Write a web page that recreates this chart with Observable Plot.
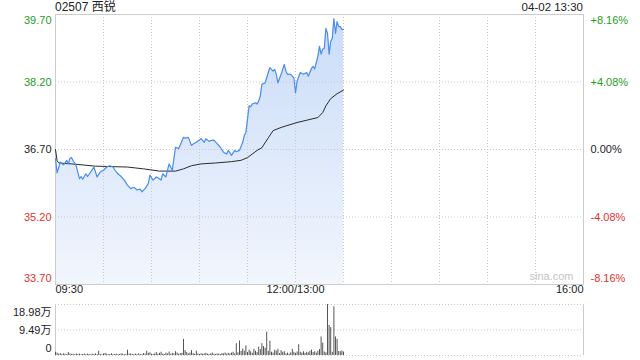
<!DOCTYPE html>
<html><head><meta charset="utf-8">
<script src="https://cdn.jsdelivr.net/npm/d3@7"></script>
<script src="https://cdn.jsdelivr.net/npm/@observablehq/plot@0.6"></script>
<style>
body{margin:0;background:#fff;font-family:"Liberation Sans","Noto Sans CJK SC",Arial,sans-serif;}
#wrap{position:relative;width:640px;height:360px;overflow:hidden;}
#wrap svg{position:absolute;left:0;}
.hdr{position:absolute;top:0;font-size:12px;color:#222;line-height:15px;white-space:nowrap;}
</style></head><body>
<div id="wrap">
<div class="hdr" style="left:55px">02507 西锐</div>
<div class="hdr" style="right:57px;font-size:11.5px">04-02 13:30</div>
</div>
<script>
const prevClose = 36.70;
const yTicks = [39.70, 38.20, 36.70, 35.20, 33.70];
const pctLabels = ["+8.16%", "+4.08%", "0.00%", "-4.08%", "-8.16%"];
const xLabels = ["09:30", "12:00/13:00", "16:00"];
const xLabelTimes = ["09:30", "12:00", "16:00"];
const gridTimes = ["10:00","10:30","11:00","11:30","12:00","13:30","14:00","14:30","15:00","15:30"];

const priceTimes = ["09:30","09:31","09:33","09:35","09:36","09:37","09:38","09:39","09:40","09:41","09:42","09:43","09:45","09:46","09:47","09:49","09:50","09:52","09:54","09:56","09:58","10:00","10:02","10:04","10:06","10:07","10:09","10:11","10:13","10:15","10:17","10:19","10:21","10:23","10:24","10:26","10:28","10:29","10:31","10:33","10:34","10:36","10:37","10:39","10:41","10:43","10:45","10:47","10:48","10:50","10:51","10:53","10:55","10:56","10:58","11:01","11:03","11:04","11:06","11:07","11:09","11:11","11:13","11:15","11:17","11:18","11:20","11:22","11:23","11:25","11:27","11:28","11:29","11:31","11:32","11:33","11:35","11:36","11:37","11:38","11:39","11:41","11:43","11:44","11:46","11:47","11:48","11:49","11:51","11:53","11:54","11:55","11:57","11:59","12:00","13:01","13:03","13:05","13:07","13:08","13:10","13:11","13:12","13:14","13:15","13:16","13:17","13:18","13:19","13:20","13:21","13:22","13:23","13:24","13:25","13:26","13:27","13:28","13:29","13:30"];
const prices = [36.50,36.18,36.42,36.36,36.40,36.46,36.38,36.50,36.52,36.45,36.40,36.33,36.05,36.10,36.04,36.16,36.10,36.20,36.31,36.09,36.20,36.24,36.31,36.34,36.31,36.25,36.16,36.10,36.02,35.91,35.83,35.86,35.80,35.82,35.76,35.83,35.94,36.13,36.02,36.09,36.07,36.02,36.16,36.09,36.38,36.24,36.75,36.72,36.80,36.97,36.95,36.97,36.79,36.82,36.86,36.94,36.86,36.94,36.88,36.90,36.91,36.83,36.75,36.64,36.60,36.68,36.57,36.68,36.65,36.68,36.86,37.01,37.08,37.67,37.65,37.71,37.74,37.71,37.78,37.89,38.15,38.18,38.41,38.52,38.44,38.48,38.37,38.18,38.37,38.59,38.44,38.37,38.37,38.29,37.96,38.22,38.41,38.37,38.41,38.33,38.50,38.55,38.49,38.77,38.99,38.82,38.93,38.95,39.39,39.28,38.82,39.10,39.17,39.61,39.28,39.54,39.43,39.43,39.37,39.37];

const avgTimes = ["09:30","09:31","09:32","09:40","09:55","10:15","10:25","10:35","10:45","10:50","10:55","11:01","11:10","11:20","11:26","11:30","11:36","11:39","11:43","11:46","11:51","13:01","13:14","13:17","13:19","13:22","13:26","13:30"];
const avgPrices = [36.70,36.45,36.40,36.38,36.33,36.31,36.27,36.22,36.22,36.27,36.34,36.38,36.40,36.43,36.46,36.52,36.68,36.74,36.96,37.12,37.19,37.30,37.41,37.52,37.67,37.83,37.94,38.02];

const volStart = "09:30";
const volumes = [1.2,0.9,0.5,0.7,0.4,0.6,0.5,0.3,1.1,0.6,
0.4,0.5,0.3,0.6,0.4,0.5,0.3,0.4,0.6,0.3,
0.5,0.4,0.3,0.5,0.4,0.6,0.3,1.6,0.4,0.3,
0.6,0.8,0.5,0.3,0.4,0.6,0.3,0.4,0.5,0.3,
0.4,0.6,0.5,0.3,0.4,2.0,0.5,0.6,0.4,0.3,
0.5,0.4,0.6,0.4,0.3,0.7,0.5,1.6,0.8,1.0,
0.5,0.4,0.6,1.1,0.5,0.8,1.2,0.5,0.4,0.9,
0.6,1.3,0.5,0.8,0.6,1.4,0.9,0.5,0.7,0.8,
6.0,1.8,1.1,0.6,0.9,1.8,0.7,0.5,1.6,0.6,
0.4,0.7,0.5,0.6,0.8,0.5,0.4,0.6,0.9,0.5,
0.4,0.6,0.5,0.4,0.7,0.6,0.9,0.5,0.8,0.6,
0.9,1.2,0.6,4.4,1.0,5.4,1.5,2.4,1.6,3.6,
1.1,2.0,1.4,0.8,2.3,1.6,1.1,3.1,2.2,4.4,
3.3,2.7,8.7,1.5,5.3,1.2,0.9,2.0,1.6,2.3,
0.7,1.8,1.2,1.4,0.6,0.9,0.5,1.0,2.3,1.2,
0.8,1.3,4.0,1.2,0.9,1.4,0.8,1.2,1.0,1.6,
2.0,1.1,1.4,0.9,1.6,2.2,6.9,4.6,1.3,1.0,
18.98,11.2,10.4,1.2,18.1,6.9,6.0,1.5,1.4,1.7,1.3];
const volTicks = [18.98, 9.49, 0];
const volLabels = ["18.98万", "9.49万", "0"];

const toMin = s => { const [h, m] = s.split(":").map(Number); const t = h * 60 + m; return t <= 720 ? t - 570 : t - 630; };
const green = "#1e9e1e", red = "#e8312f", dark = "#222";
const colorOf = v => v > prevClose + 1e-9 ? green : v < prevClose - 1e-9 ? red : dark;
const font = '"Liberation Sans","Noto Sans CJK SC",Arial,sans-serif';
const gridStyle = {stroke: "#c8c8c8", strokeDasharray: "1,2", strokeWidth: 1};

const priceData = priceTimes.map((t, i) => ({x: toMin(t), y: prices[i]}));
const avgData = avgTimes.map((t, i) => ({x: toMin(t), y: avgPrices[i]}));
const volData = volumes.map((v, i) => ({x: toMin(volStart) + i, v}));

function gradientDefs() {
  const ns = "http://www.w3.org/2000/svg";
  const defs = document.createElementNS(ns, "defs");
  const g = document.createElementNS(ns, "linearGradient");
  g.setAttribute("id", "areaGrad");
  g.setAttribute("x1", "0"); g.setAttribute("y1", "0"); g.setAttribute("x2", "0"); g.setAttribute("y2", "1");
  [["0", "#c9dcf8"], ["1", "#f2f6fd"]].forEach(([o, c]) => {
    const s = document.createElementNS(ns, "stop");
    s.setAttribute("offset", o); s.setAttribute("stop-color", c);
    g.appendChild(s);
  });
  defs.appendChild(g);
  return defs;
}

const yTextMarks = [];
yTicks.forEach((v, i) => {
  const dy = i === 0 ? 6 : i === yTicks.length - 1 ? -6 : 0;
  yTextMarks.push(Plot.text([v], {y: d => d, frameAnchor: "left", textAnchor: "end", dx: -4, dy, fill: colorOf(v), text: d => d.toFixed(2), fontSize: 11}));
  yTextMarks.push(Plot.text([v], {y: d => d, frameAnchor: "right", textAnchor: "start", dx: 7, dy, fill: colorOf(v), text: () => pctLabels[i], fontSize: 11}));
});
const anchors = ["start", "middle", "end"];
const xTextMarks = xLabels.map((lab, i) => Plot.text([lab], {x: () => toMin(xLabelTimes[i]), frameAnchor: "bottom", dy: 8, textAnchor: anchors[i], fill: dark, fontSize: 11, text: d => d}));

const pricePlot = Plot.plot({
  width: 640, height: 300,
  marginTop: 14, marginBottom: 16, marginLeft: 55, marginRight: 57,
  x: {domain: [0, 330], axis: null},
  y: {domain: [33.70, 39.70], axis: null},
  style: {fontFamily: font, background: "transparent"},
  marks: [
    gradientDefs,
    Plot.areaY(priceData, {x: "x", y1: 33.70, y2: "y", fill: "url(#areaGrad)"}),
    Plot.ruleY([38.20, 36.70, 35.20], gridStyle),
    Plot.ruleX(gridTimes.map(toMin), gridStyle),
    Plot.frame({stroke: "#cccccc"}),
    Plot.text(["sina.com"], {frameAnchor: "bottom-right", dx: -10, dy: -5, fill: "#c4c4c4", fontSize: 11, text: d => d}),
    Plot.line(avgData, {x: "x", y: "y", stroke: "#2b2b2b", strokeWidth: 1}),
    Plot.line(priceData, {x: "x", y: "y", stroke: "#4a8cf0", strokeWidth: 1.2}),
    ...yTextMarks,
    ...xTextMarks
  ]
});
pricePlot.style.top = "0px";
document.getElementById("wrap").appendChild(pricePlot);

const volTextMarks = volTicks.map((v, i) => {
  const dy = i === 0 ? 8 : i === volTicks.length - 1 ? -7 : 0;
  return Plot.text([v], {y: d => d, frameAnchor: "left", textAnchor: "end", dx: -4, dy, fill: dark, fontSize: 11, text: () => volLabels[i]});
});

const volPlot = Plot.plot({
  width: 640, height: 60,
  marginTop: 4, marginBottom: 5, marginLeft: 55, marginRight: 57,
  x: {domain: [0, 330], axis: null},
  y: {domain: [0, 18.98], axis: null},
  style: {fontFamily: font, background: "transparent"},
  marks: [
    Plot.ruleY(volTicks, gridStyle),
    Plot.ruleX([0, 330], {stroke: "#cccccc"}),
    Plot.ruleX(volData, {x: "x", y1: 0, y2: "v", stroke: "#555555", strokeWidth: 1}),
    ...volTextMarks
  ]
});
volPlot.style.top = "300px";
document.getElementById("wrap").appendChild(volPlot);
</script>
</body></html>
